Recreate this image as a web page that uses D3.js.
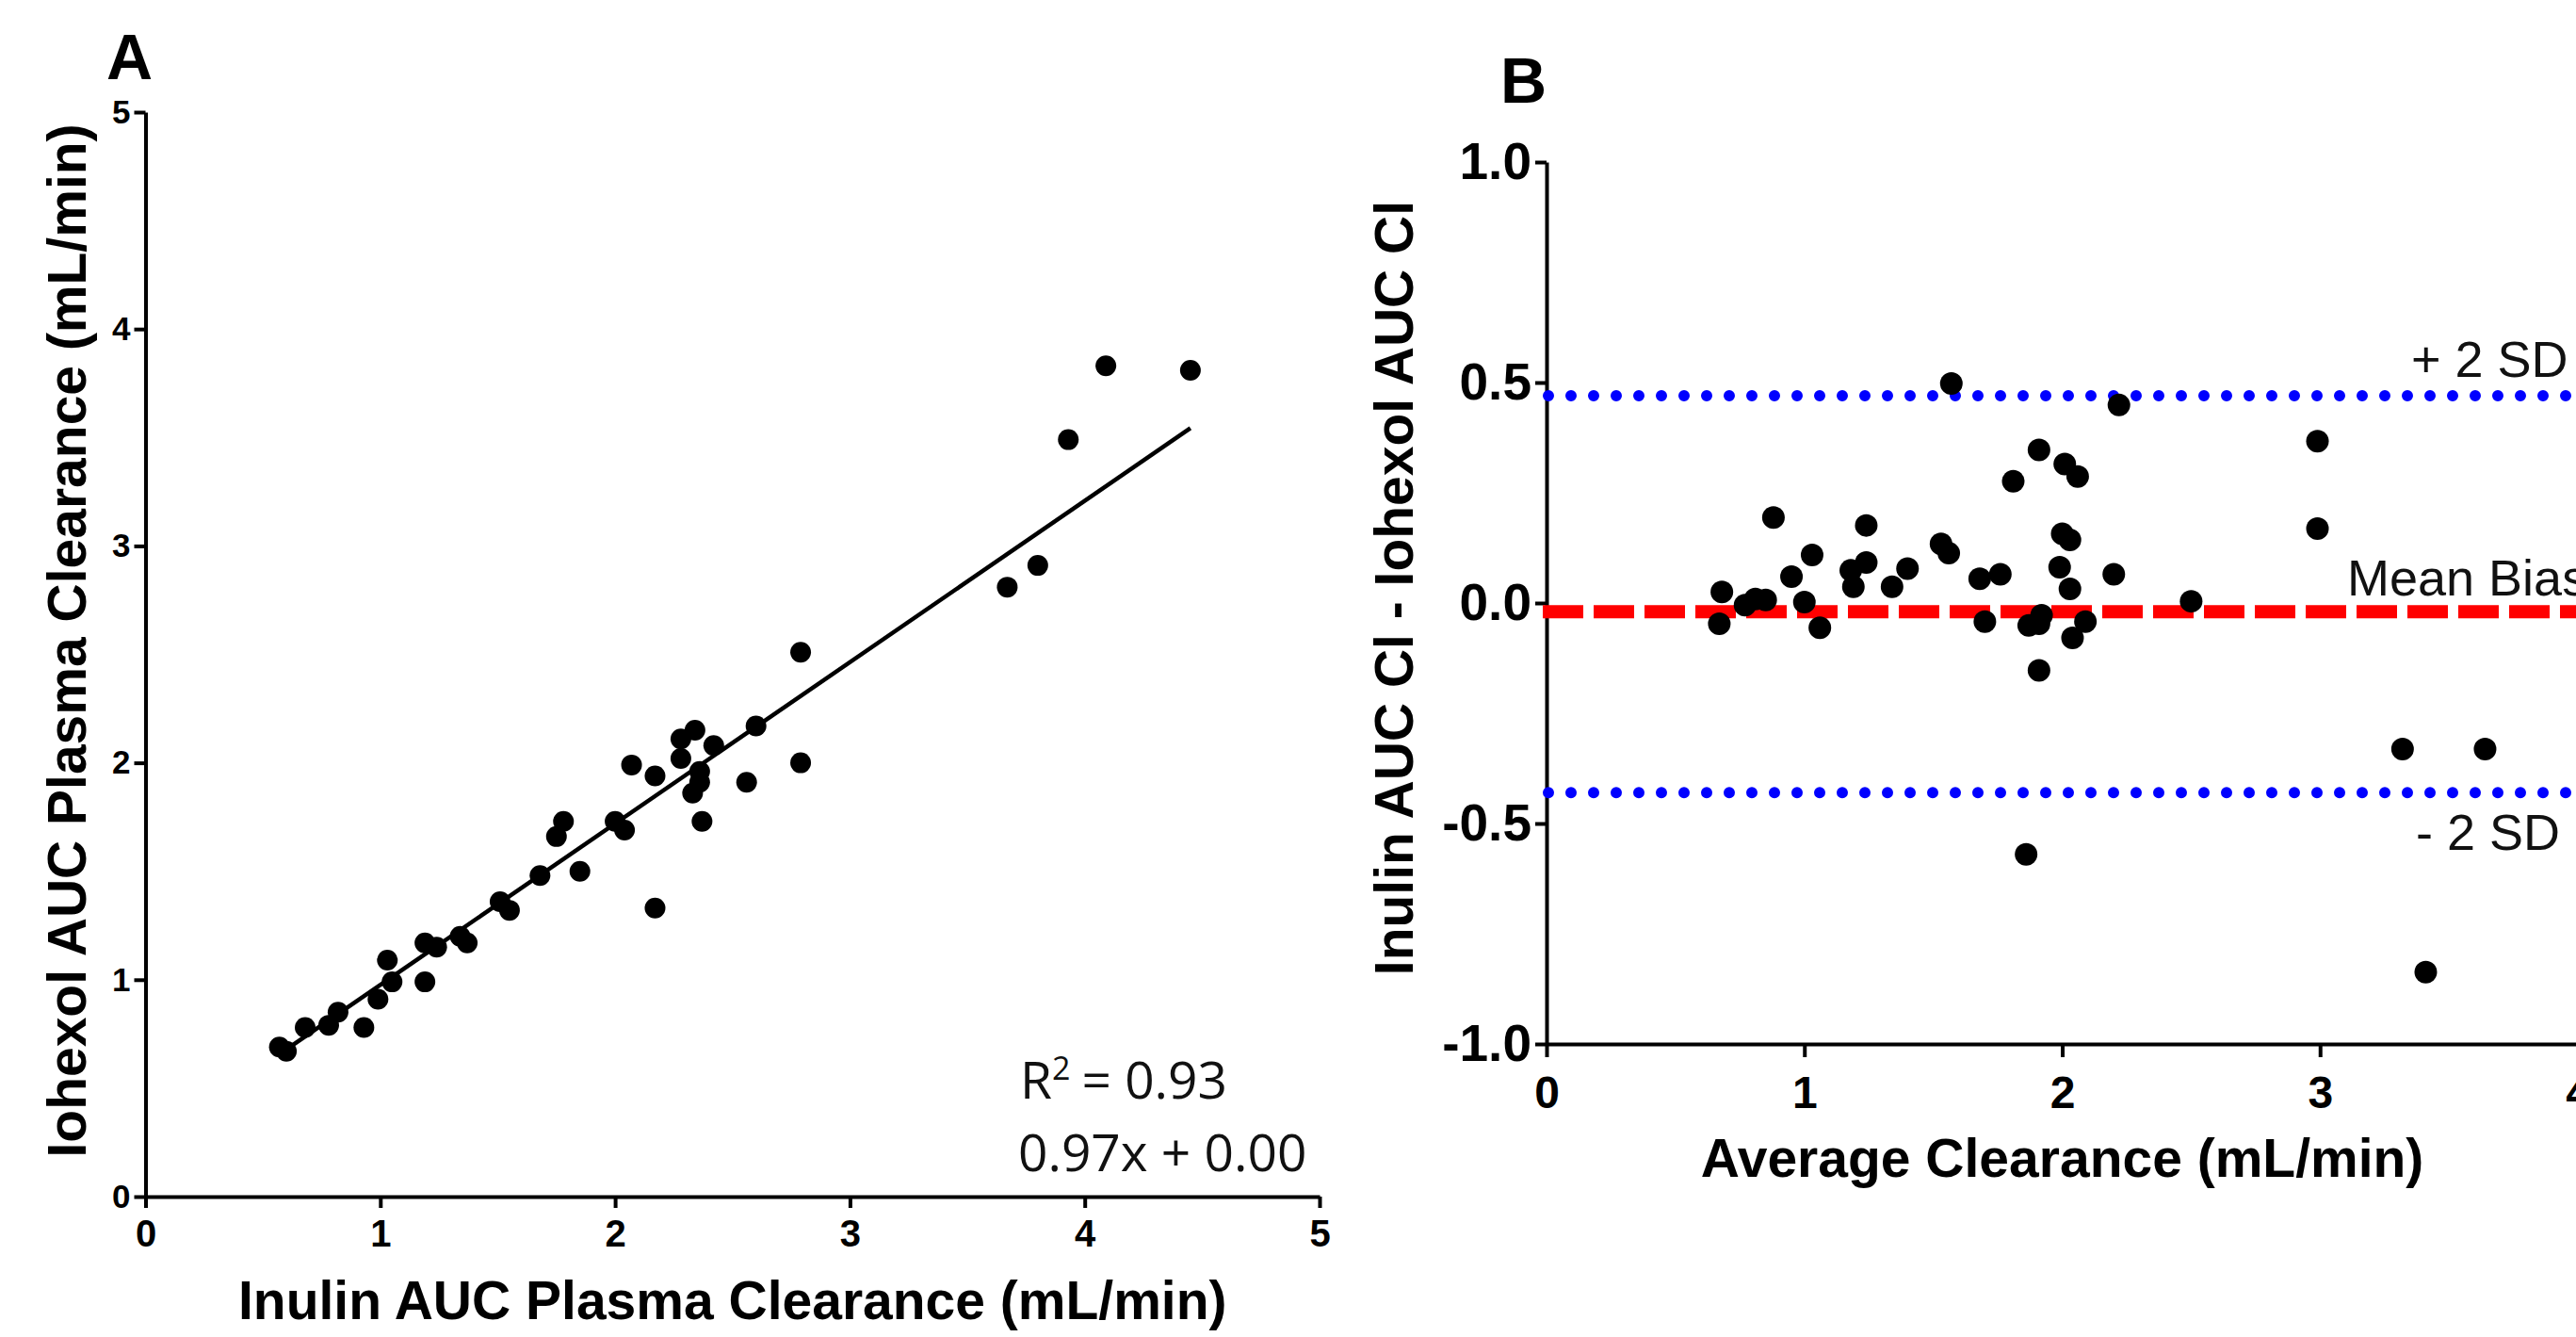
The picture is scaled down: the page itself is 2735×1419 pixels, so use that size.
<!DOCTYPE html>
<html>
<head>
<meta charset="utf-8">
<script src="https://cdn.jsdelivr.net/npm/d3@7"></script>
<style>
  body { margin: 0; background: #fff; }
  svg { display: block; }
</style>
</head>
<body>
<div id="chart"></div>
<script>
// Panel A: inulin vs iohexol clearance (mL/min)
const inulinA = [0.57, 0.60, 0.68, 0.78, 0.82, 0.93, 0.99, 1.05, 1.03, 1.19, 1.19, 1.24, 1.34, 1.37,
  1.51, 1.55, 1.68, 1.85, 1.78, 1.75, 2.00, 2.04, 2.17, 2.07, 2.17, 2.28, 2.34, 2.42, 2.28, 2.36,
  2.36, 2.33, 2.37, 2.56, 2.60, 2.79, 2.79, 3.67, 3.80, 3.93, 4.09, 4.45];
const iohexolA = [0.69, 0.67, 0.78, 0.79, 0.85, 0.78, 0.91, 0.99, 1.09, 0.99, 1.17, 1.15, 1.20, 1.17,
  1.36, 1.32, 1.48, 1.50, 1.73, 1.66, 1.73, 1.69, 1.33, 1.99, 1.94, 2.11, 2.15, 2.08, 2.02, 1.96,
  1.91, 1.86, 1.73, 1.91, 2.17, 2.51, 2.00, 2.81, 2.91, 3.49, 3.83, 3.81];
const fitSlope = 0.744, fitIntercept = 0.232;
const fitRange = [0.57, 4.45];
const statLines = ["= 0.93", "0.97x + 0.00"];

// Panel B: Bland-Altman
const avgB = [0.68, 0.67, 0.77, 0.81, 0.85, 0.88, 0.95, 1.00, 1.03, 1.06, 1.18, 1.19, 1.24, 1.24,
  1.34, 1.40, 1.53, 1.56, 1.57, 1.68, 1.70, 1.76, 1.81, 1.87, 1.91, 1.91, 1.91, 1.92, 1.86, 1.99,
  2.00, 2.03, 2.01, 2.06, 2.03, 2.04, 2.09, 2.20, 2.22, 2.99, 2.99, 2.50, 3.32, 3.64, 3.41];
const diffB = [0.025, -0.047, -0.005, 0.009, 0.007, 0.194, 0.060, 0.002, 0.109, -0.056, 0.074, 0.037,
  0.176, 0.092, 0.037, 0.078, 0.134, 0.113, 0.498, 0.055, -0.042, 0.065, 0.276, -0.051, 0.347,
  -0.153, -0.047, -0.028, -0.570, 0.081, 0.157, 0.143, 0.315, 0.287, 0.032, -0.079, -0.042, 0.065,
  0.449, 0.367, 0.169, 0.004, -0.331, -0.331, -0.837];
const upperSD = 0.47, meanBias = -0.02, lowerSD = -0.43;
const limitLabels = ["+ 2 SD", "Mean Bias", "- 2 SD"];

const ticksA = [0, 1, 2, 3, 4, 5];
const ticksBx = [0, 1, 2, 3, 4];
const ticksBy = [-1.0, -0.5, 0.0, 0.5, 1.0];

const width = 2735, height = 1419;
const boldFont = "'Liberation Sans', Arial, sans-serif";

const svg = d3.select("#chart")
  .append("svg")
  .attr("width", width)
  .attr("height", height)
  .style("background", "#fff");

function styleAxis(g, size) {
  g.select(".domain").attr("stroke", "#000").attr("stroke-width", 4);
  g.selectAll(".tick line").attr("stroke", "#000").attr("stroke-width", 4);
  g.selectAll(".tick text")
    .attr("fill", "#000")
    .attr("font-family", boldFont)
    .attr("font-weight", "bold")
    .attr("font-size", size);
}

// ---------- Panel A ----------
const xA = d3.scaleLinear().domain([0, 5]).range([154.5, 1401]);
const yA = d3.scaleLinear().domain([0, 5]).range([1270, 119]);

svg.append("g")
  .attr("transform", `translate(0,${yA(0)})`)
  .call(d3.axisBottom(xA).tickValues(ticksA).tickFormat(d3.format("d"))
    .tickSize(12).tickSizeOuter(0).tickPadding(13))
  .call(g => styleAxis(g, 40));

svg.append("g")
  .attr("transform", `translate(${xA(0)},0)`)
  .call(d3.axisLeft(yA).tickValues(ticksA).tickFormat(d3.format("d"))
    .tickSize(12).tickSizeOuter(0).tickPadding(4))
  .call(g => styleAxis(g, 35));

// fit line
svg.append("line")
  .attr("x1", xA(fitRange[0]))
  .attr("y1", yA(fitSlope * fitRange[0] + fitIntercept))
  .attr("x2", xA(fitRange[1]))
  .attr("y2", yA(fitSlope * fitRange[1] + fitIntercept))
  .attr("stroke", "#000")
  .attr("stroke-width", 4.5);

svg.append("g")
  .selectAll("circle")
  .data(inulinA.map((d, i) => [d, iohexolA[i]]))
  .join("circle")
  .attr("cx", d => xA(d[0]))
  .attr("cy", d => yA(d[1]))
  .attr("r", 11)
  .attr("fill", "#000");

svg.append("text")
  .attr("x", 113)
  .attr("y", 84)
  .attr("font-family", boldFont)
  .attr("font-weight", "bold")
  .attr("font-size", 68)
  .text("A");

svg.append("text")
  .attr("x", (xA(0) + xA(5)) / 2)
  .attr("y", 1400)
  .attr("text-anchor", "middle")
  .attr("font-family", boldFont)
  .attr("font-weight", "bold")
  .attr("font-size", 57)
  .text("Inulin AUC Plasma Clearance (mL/min)");

svg.append("text")
  .attr("transform", "translate(91,680) rotate(-90)")
  .attr("text-anchor", "middle")
  .attr("font-family", boldFont)
  .attr("font-weight", "bold")
  .attr("font-size", 57)
  .text("Iohexol AUC Plasma Clearance (mL/min)");

// R2 + equation
const stat = svg.append("g")
  .attr("font-family", "'Open Sans', sans-serif")
  .attr("font-size", 55)
  .attr("fill", "#111");
const r2 = stat.append("text").attr("x", 1083).attr("y", 1166);
r2.append("tspan").text("R");
r2.append("tspan").attr("dy", -20).attr("font-size", 34).text("2");
r2.append("tspan").attr("dy", 20).attr("dx", 12).text(statLines[0]);
stat.append("text").attr("x", 1081).attr("y", 1243).text(statLines[1]);

// ---------- Panel B ----------
const xB = d3.scaleLinear().domain([0, 4]).range([1642, 2737]);
const yB = d3.scaleLinear().domain([-1, 1]).range([1108, 172]);

svg.append("g")
  .attr("transform", `translate(0,${yB(-1)})`)
  .call(d3.axisBottom(xB).tickValues(ticksBx).tickFormat(d3.format("d"))
    .tickSize(14).tickSizeOuter(0).tickPadding(20))
  .call(g => styleAxis(g, 48));

svg.append("g")
  .attr("transform", `translate(${xB(0)},0)`)
  .call(d3.axisLeft(yB).tickValues(ticksBy).tickFormat(d => d.toFixed(1))
    .tickSize(12).tickSizeOuter(0).tickPadding(4))
  .call(g => styleAxis(g, 55));

// limits of agreement
const limits = svg.append("g");
[upperSD, lowerSD].forEach(v => {
  limits.append("line")
    .attr("x1", xB(0) + 2).attr("x2", xB(4))
    .attr("y1", yB(v)).attr("y2", yB(v))
    .attr("stroke", "#0000ff")
    .attr("stroke-width", 12)
    .attr("stroke-linecap", "round")
    .attr("stroke-dasharray", "0 24");
});
limits.append("line")
  .attr("x1", xB(0) - 4).attr("x2", xB(4))
  .attr("y1", yB(meanBias)).attr("y2", yB(meanBias))
  .attr("stroke", "#ff0000")
  .attr("stroke-width", 14)
  .attr("stroke-dasharray", "43 11");

svg.append("g")
  .selectAll("circle")
  .data(avgB.map((d, i) => [d, diffB[i]]))
  .join("circle")
  .attr("cx", d => xB(d[0]))
  .attr("cy", d => yB(d[1]))
  .attr("r", 12)
  .attr("fill", "#000");

// labels run off the right edge, as in the source figure
const labelPos = [[2560, 400], [2492, 632], [2565, 902]];
svg.append("g")
  .attr("font-family", "'Liberation Sans', Arial, sans-serif")
  .attr("font-size", 54)
  .attr("fill", "#111")
  .selectAll("text")
  .data(limitLabels)
  .join("text")
  .attr("x", (d, i) => labelPos[i][0])
  .attr("y", (d, i) => labelPos[i][1])
  .text(d => d);

svg.append("text")
  .attr("x", 1593)
  .attr("y", 109)
  .attr("font-family", boldFont)
  .attr("font-weight", "bold")
  .attr("font-size", 68)
  .text("B");

svg.append("text")
  .attr("x", xB(2))
  .attr("y", 1249)
  .attr("text-anchor", "middle")
  .attr("font-family", boldFont)
  .attr("font-weight", "bold")
  .attr("font-size", 57)
  .text("Average Clearance (mL/min)");

svg.append("text")
  .attr("transform", "translate(1500,624) rotate(-90)")
  .attr("text-anchor", "middle")
  .attr("font-family", boldFont)
  .attr("font-weight", "bold")
  .attr("font-size", 57)
  .text("Inulin AUC Cl - Iohexol AUC Cl");
</script>
</body>
</html>
